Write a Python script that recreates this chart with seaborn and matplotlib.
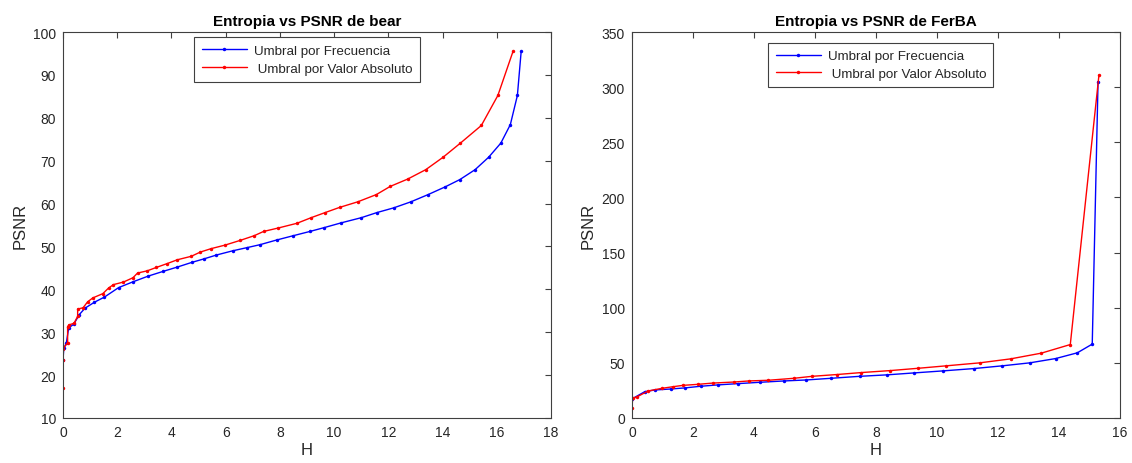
import numpy as np
import pandas as pd
import matplotlib
matplotlib.use("Agg")
import matplotlib.pyplot as plt
import seaborn as sns

# ---------------- data ----------------
bear_freq_H = [0, 0.03, 0.12, 0.21, 0.4, 0.6, 0.81, 1.16, 1.53, 2.05, 2.6, 3.15, 3.7, 4.22,
               4.76, 5.2, 5.66, 6.27, 6.77, 7.26, 7.88, 8.49, 9.11, 9.64, 10.26, 11.0, 11.58,
               12.2, 12.83, 13.47, 14.1, 14.64, 15.2, 15.7, 16.15, 16.5, 16.76, 16.9]
bear_freq_P = [23.5, 26.3, 27.4, 31.0, 31.9, 34.1, 35.6, 37.0, 38.2, 40.4, 41.8, 43.1, 44.2, 45.2,
               46.3, 47.1, 48.0, 49.0, 49.7, 50.4, 51.5, 52.5, 53.5, 54.4, 55.5, 56.7, 57.9,
               59.0, 60.4, 62.1, 63.9, 65.6, 67.9, 70.8, 74.1, 78.4, 85.2, 95.5]

bear_abs_H = [0, 0, 0, 0.17, 0.17, 0.22, 0.41, 0.54, 0.54, 0.74, 0.91, 1.1, 1.47, 1.68, 1.86,
              2.23, 2.58, 2.75, 3.1, 3.44, 3.84, 4.22, 4.73, 5.07, 5.47, 5.97, 6.53, 7.05, 7.4,
              7.94, 8.63, 9.15, 9.67, 10.2, 10.87, 11.56, 12.07, 12.71, 13.38, 14.02, 14.66,
              15.43, 16.04, 16.6]
bear_abs_P = [17.1, 23.6, 26.1, 27.6, 31.3, 31.7, 32.1, 33.7, 35.4, 35.7, 37.1, 38.0, 39.0, 40.3,
              41.1, 41.7, 42.7, 43.8, 44.3, 45.1, 46.0, 46.9, 47.7, 48.7, 49.5, 50.3, 51.4, 52.5,
              53.5, 54.3, 55.4, 56.7, 57.9, 59.1, 60.4, 62.1, 64.0, 65.7, 67.9, 70.8, 74.1,
              78.2, 85.2, 95.5]

ferba_freq_H = [0, 0.42, 0.75, 1.27, 1.74, 2.26, 2.81, 3.49, 4.2, 4.99, 5.72, 6.52, 7.47, 8.35,
                9.26, 10.19, 11.2, 12.14, 13.04, 13.89, 14.6, 15.09, 15.28]
ferba_freq_P = [17.3, 23.9, 25.4, 26.3, 27.3, 28.8, 30.0, 31.2, 32.4, 33.6, 34.5, 36.0, 37.8,
                39.1, 40.9, 42.7, 44.8, 47.3, 50.0, 53.9, 59.1, 67.0, 305.0]

ferba_abs_H = [0, 0.02, 0.18, 0.53, 0.98, 1.35, 1.67, 2.15, 2.66, 3.33, 3.83, 4.46, 5.3, 5.91,
               6.71, 7.52, 8.47, 9.39, 10.3, 11.4, 12.41, 13.42, 14.37, 15.31]
ferba_abs_P = [9.1, 17.8, 19.4, 24.5, 26.9, 28.4, 29.6, 30.5, 31.7, 32.6, 33.6, 34.2, 36.0,
               37.8, 39.4, 41.2, 43.0, 45.1, 47.3, 50.0, 53.6, 58.8, 66.6, 311.0]

series_labels = ["Umbral por Frecuencia", " Umbral por Valor Absoluto"]
titles = ["Entropia vs PSNR de bear", "Entropia vs PSNR de FerBA"]
x_label = "H"
y_label = "PSNR"
left_xticks = [0, 2, 4, 6, 8, 10, 12, 14, 16, 18]
left_yticks = [10, 20, 30, 40, 50, 60, 70, 80, 90, 100]
right_xticks = [0, 2, 4, 6, 8, 10, 12, 14, 16]
right_yticks = [0, 50, 100, 150, 200, 250, 300, 350]

# ---------------- style ----------------
sns.set_style("white")
plt.rcParams['font.family'] = ['Liberation Sans', 'DejaVu Sans']

fig = plt.figure(figsize=(11.32, 4.64), dpi=100)
ax1 = fig.add_axes([63 / 1132, 45 / 464, 488 / 1132, 386 / 464])
ax2 = fig.add_axes([632 / 1132, 45 / 464, 488 / 1132, 386 / 464])

def make_df(h, p, label):
    return pd.DataFrame({"H": h, "PSNR": p, "serie": label, "order": np.arange(len(h))})

panels = [
    (ax1, [(bear_freq_H, bear_freq_P), (bear_abs_H, bear_abs_P)], titles[0],
     (0, 18), (10, 100), left_xticks, left_yticks, (0.5, 0.986)),
    (ax2, [(ferba_freq_H, ferba_freq_P), (ferba_abs_H, ferba_abs_P)], titles[1],
     (0, 16), (0, 350), right_xticks, right_yticks, (0.51, 0.972)),
]

colors = ["#0000ff", "#ff0000"]
gray = "#404040"

for ax, data, title, xl, yl, xt, yt, anchor in panels:
    df = pd.concat([make_df(h, p, lab) for (h, p), lab in zip(data, series_labels)],
                   ignore_index=True)
    sns.lineplot(data=df, x="H", y="PSNR", hue="serie", palette=colors,
                 hue_order=series_labels, estimator=None, sort=False, units="serie",
                 marker="o", markersize=2.5, markeredgewidth=0, linewidth=1.0, ax=ax)
    ax.set_xlim(*xl)
    ax.set_ylim(*yl)
    ax.set_xticks(xt)
    ax.set_yticks(yt)
    ax.set_title(title, fontsize=11, fontweight="bold", color="#000000", pad=5)
    ax.set_xlabel(x_label, fontsize=12, color="#262626", labelpad=2)
    ax.set_ylabel(y_label, fontsize=12, color="#262626", labelpad=4)
    ax.tick_params(direction="in", length=4, width=0.8, top=True, right=True,
                   labelsize=10, colors=gray, labelcolor="#262626", pad=5)
    for s in ax.spines.values():
        s.set_visible(True)
        s.set_color(gray)
        s.set_linewidth(0.8)
    leg = ax.legend(loc="upper center", bbox_to_anchor=anchor, fontsize=9.6,
                    frameon=True, fancybox=False, edgecolor=gray, framealpha=1,
                    handlelength=3.4, borderpad=0.55, labelspacing=0.4,
                    handletextpad=0.5, borderaxespad=0)
    leg.get_frame().set_linewidth(0.8)
    for line in leg.get_lines():
        line.set_linewidth(1.0)
        line.set_markersize(2.5)

fig.savefig("out.png", dpi=100)
